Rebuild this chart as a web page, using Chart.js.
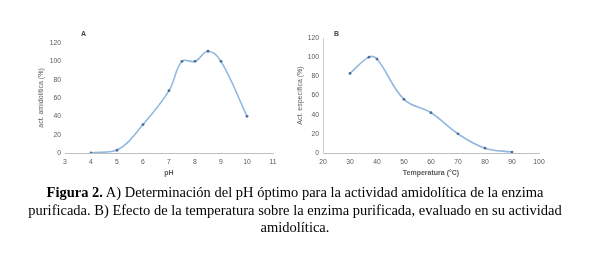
<!DOCTYPE html>
<html>
<head>
<meta charset="utf-8">
<script src="https://cdn.jsdelivr.net/npm/chart.js@4"></script>
<style>
  body { margin: 0; background: #fff; }
  #wrap { position: relative; width: 590px; height: 255px; overflow: hidden; }
  .box { position: absolute; top: 0; width: 295px; height: 185px; }
  .tag { position: absolute; font: bold 7px "Liberation Sans", sans-serif; color: #444; }
  #caption { position: absolute; left: 0; top: 184px; width: 590px; text-align: center;
    font: 14.5px "Liberation Serif", serif; line-height: 17.5px; color: #000; }
</style>
</head>
<body>
<div id="wrap">
  <div class="box" style="left:0"><canvas id="chartA"></canvas></div>
  <div class="box" style="left:295px"><canvas id="chartB"></canvas></div>
  <div class="tag" style="left:81px;top:30px">A</div>
  <div class="tag" style="left:334px;top:30px">B</div>
  <div id="caption"><b>Figura 2.</b> A) Determinación del pH óptimo para la actividad amidolítica de la enzima<br>purificada. B) Efecto de la temperatura sobre la enzima purificada, evaluado en su actividad<br>amidolítica.</div>
</div>
<script>
// A) actividad vs pH
var ph_values = [4, 5, 6, 7, 7.5, 8, 8.5, 9, 10];
var ph_activity = [0, 3, 31, 68, 100, 100, 111, 100, 40];

// B) actividad vs temperatura
var temp_values = [30, 37, 40, 50, 60, 70, 80, 90];
var temp_activity = [83, 100, 98, 56, 42, 20, 5, 1];

var tickFont = { family: 'Liberation Sans', size: 6.8 };
var titleFont = { family: 'Liberation Sans', size: 7 };
var tickColor = '#595959';

function toPoints(xs, ys) {
    var pts = [];
    for (var i = 0; i < xs.length; i++) {
        pts.push({ x: xs[i], y: ys[i] });
    }
    return pts;
}

function makeChart(id, xs, ys, opts) {
    var ctx = document.getElementById(id);
    return new Chart(ctx, {
        type: 'line',
        data: {
            datasets: [{
                data: toPoints(xs, ys),
                borderColor: '#93b8df',
                borderWidth: 1.6,
                tension: 0.4,
                pointRadius: 1.4,
                pointBackgroundColor: '#4a6f96',
                pointBorderColor: '#4a6f96',
                pointBorderWidth: 0
            }]
        },
        options: {
            responsive: true,
            maintainAspectRatio: false,
            animation: false,
            events: [],
            layout: { padding: opts.padding },
            plugins: { legend: { display: false }, tooltip: { enabled: false } },
            scales: {
                x: {
                    type: 'linear',
                    min: opts.xMin,
                    max: opts.xMax,
                    grid: { display: false, drawTicks: false },
                    border: { display: true, color: '#bfbfbf', width: 1 },
                    ticks: { stepSize: opts.xStep, font: tickFont, color: tickColor, padding: 5 },
                    title: { display: true, text: opts.xTitle, font: { family: 'Liberation Sans', size: 7, weight: 'bold' }, color: tickColor, padding: 0 },
                    afterFit: function (scale) { scale.height = 24; }
                },
                y: {
                    min: 0,
                    max: 120,
                    grid: { display: false, drawTicks: false },
                    border: { display: opts.yBorder, color: '#d0d0d0', width: 1 },
                    ticks: { stepSize: 20, font: tickFont, color: tickColor, padding: 4 },
                    title: { display: true, text: opts.yTitle, font: titleFont, color: tickColor, padding: { top: 0, bottom: 0 } },
                    afterFit: function (scale) { scale.width = opts.yWidth; }
                }
            }
        }
    });
}

makeChart('chartA', ph_values, ph_activity, {
    xMin: 3, xMax: 11, xStep: 1,
    xTitle: 'pH', yTitle: 'act. amidolítica (%)',
    yBorder: false, yWidth: 28,
    padding: { left: 37, right: 22, top: 43, bottom: 8 }
});

makeChart('chartB', temp_values, temp_activity, {
    xMin: 20, xMax: 100, xStep: 10,
    xTitle: 'Temperatura (°C)', yTitle: 'Act. específica (%)',
    yBorder: true, yWidth: 27,
    padding: { left: 1, right: 51, top: 38, bottom: 8 }
});
</script>
</body>
</html>
